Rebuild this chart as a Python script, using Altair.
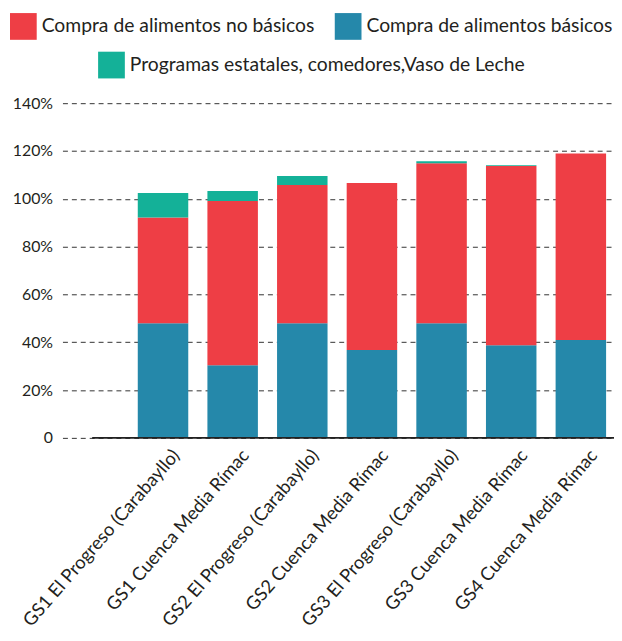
import altair as alt
import pandas as pd

categories = [
    "GS1 El Progreso (Carabayllo)",
    "GS1 Cuenca Media Rímac",
    "GS2 El Progreso (Carabayllo)",
    "GS2 Cuenca Media Rímac",
    "GS3 El Progreso (Carabayllo)",
    "GS3 Cuenca Media Rímac",
    "GS4 Cuenca Media Rímac",
]
basicos = [47.9, 30.4, 47.9, 36.8, 47.9, 38.7, 40.9]
no_basicos = [44.3, 68.7, 57.9, 69.8, 67.0, 75.0, 78.1]
programas = [10.2, 4.2, 3.7, 0.0, 0.8, 0.3, 0.0]

name_no_bas = "Compra de alimentos no básicos"
name_bas = "Compra de alimentos básicos"
name_prog = "Programas estatales, comedores,Vaso de Leche"

col_red = "#EE3E45"
col_blue = "#2588AA"
col_green = "#14B198"
txt = "#231f20"
font = "Lato"

rows_main, rows_prog = [], []
for c, b, r, g in zip(categories, basicos, no_basicos, programas):
    rows_main.append({"cat": c, "serie": name_bas, "y0": 0.0, "y1": b})
    rows_main.append({"cat": c, "serie": name_no_bas, "y0": b, "y1": b + r})
    rows_prog.append({"cat": c, "serie": name_prog, "y0": b + r, "y1": b + r + g})
df_main = pd.DataFrame(rows_main)
df_prog = pd.DataFrame(rows_prog)

x_enc = alt.X(
    "cat:N",
    sort=categories,
    title=None,
    scale=alt.Scale(paddingInner=0.275, paddingOuter=0.5975, align=0.905),
    axis=alt.Axis(
        labelAngle=-49, labelAlign="right", labelBaseline="middle",
        labelFont=font, labelFontSize=18.5, labelColor=txt, labelPadding=14,
        labelOffset=13, ticks=False, domain=False, grid=False, labelLimit=0,
    ),
)
y_enc = alt.Y(
    "y0:Q",
    title=None,
    scale=alt.Scale(domain=[0, 140], nice=False),
    axis=alt.Axis(
        values=[0, 20, 40, 60, 80, 100, 120, 140],
        labelExpr="datum.value == 0 ? '0' : datum.value + '%'",
        labelFont=font, labelFontSize=16, labelColor=txt, labelPadding=10,
        ticks=False, domain=False, grid=True, gridColor="#333333",
        gridDash=[5, 4], gridWidth=1,
    ),
)

legend_common = dict(
    title=None, orient="none", direction="horizontal", symbolType="square",
    symbolSize=729, symbolStrokeWidth=0, labelFontSize=19.5, labelFont=font,
    labelColor=txt, columnPadding=20, padding=0, labelLimit=0, labelOffset=5,
)

bars_main = alt.Chart(df_main).mark_bar().encode(
    x=x_enc,
    y=y_enc,
    y2="y1:Q",
    color=alt.Color(
        "serie:N",
        scale=alt.Scale(domain=[name_no_bas, name_bas], range=[col_red, col_blue]),
        legend=alt.Legend(legendX=-53, legendY=-91, **legend_common),
    ),
)

bars_prog = alt.Chart(df_prog).mark_bar().encode(
    x=x_enc,
    y=y_enc,
    y2="y1:Q",
    color=alt.Color(
        "serie:N",
        scale=alt.Scale(domain=[name_prog], range=[col_green]),
        legend=alt.Legend(legendX=36, legendY=-52, **legend_common),
    ),
)

baseline = alt.Chart(pd.DataFrame({"v": [0]})).mark_rule(color="#222222", strokeWidth=2).encode(
    y=alt.Y("v:Q"),
    x=alt.value(30),
    x2=alt.value(557),
)

chart = (
    alt.layer(bars_main, bars_prog, baseline)
    .resolve_scale(color="independent")
    .properties(
        width=557,
        height=338,
        autosize=alt.AutoSizeParams(type="none"),
        padding={"left": 55, "top": 93, "right": 0, "bottom": 200},
    )
    .configure_view(strokeWidth=0)
)

chart.save("out.html", embed_options={"renderer": "svg", "actions": False})
